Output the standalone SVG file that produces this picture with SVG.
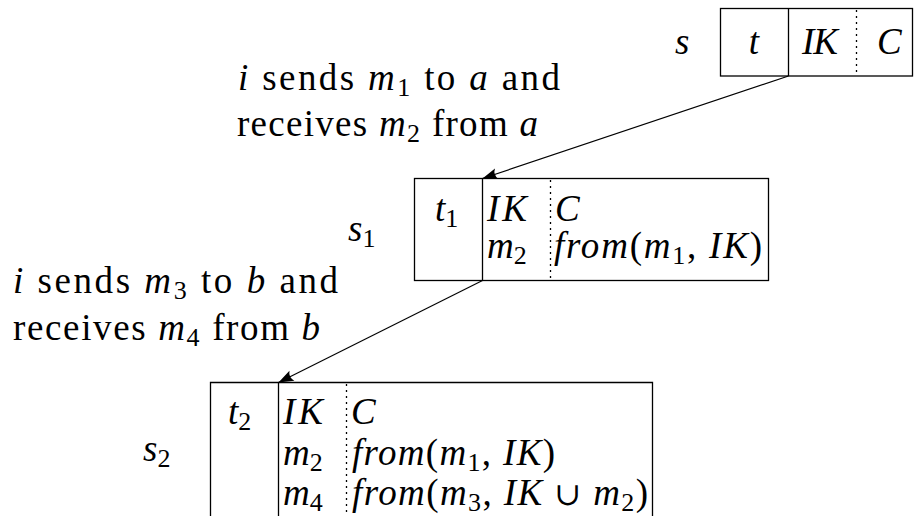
<svg xmlns="http://www.w3.org/2000/svg" width="915" height="516" viewBox="0 0 915 516">
<defs>
<marker id="ah" markerUnits="userSpaceOnUse" markerWidth="20" markerHeight="14" viewBox="-16 -7 17 14" refX="0" refY="0" orient="auto">
<path d="M0,0 L-15,-5.5 Q-11,0 -15,5.5 Z" fill="#000"/>
</marker>
</defs>
<g id="label1">
<text font-family="Liberation Serif" font-size="37" x="238" y="90" textLength="322" lengthAdjust="spacing"><tspan font-style="italic">i</tspan> sends <tspan font-style="italic">m</tspan><tspan font-size="26" dy="6">1</tspan><tspan dy="-6"> to </tspan><tspan font-style="italic">a</tspan> and</text>
<text font-family="Liberation Serif" font-size="37" x="237" y="136" textLength="301" lengthAdjust="spacing">receives <tspan font-style="italic">m</tspan><tspan font-size="26" dy="6">2</tspan><tspan dy="-6"> from </tspan><tspan font-style="italic">a</tspan></text>
</g>
<g id="label2">
<text font-family="Liberation Serif" font-size="37" x="13" y="293" textLength="325" lengthAdjust="spacing"><tspan font-style="italic">i</tspan> sends <tspan font-style="italic">m</tspan><tspan font-size="26" dy="6">3</tspan><tspan dy="-6"> to </tspan><tspan font-style="italic">b</tspan> and</text>
<text font-family="Liberation Serif" font-size="37" x="13" y="340" textLength="307" lengthAdjust="spacing">receives <tspan font-style="italic">m</tspan><tspan font-size="26" dy="6">4</tspan><tspan dy="-6"> from </tspan><tspan font-style="italic">b</tspan></text>
</g>
<g id="s" stroke="#000" stroke-width="1.3">
<rect fill="#fff" x="720.5" y="8.5" width="192" height="67.5"/>
<line x1="788.5" y1="8.5" x2="788.5" y2="76"/>
<line stroke-dasharray="2 4" x1="856.5" y1="10" x2="856.5" y2="76"/>
<g stroke="none" font-family="Liberation Serif" font-size="37" font-style="italic">
<text x="675" y="54">s</text>
<text x="754" y="54" text-anchor="middle">t</text>
<text x="802" y="54" textLength="36" lengthAdjust="spacing">IK</text>
<text x="877" y="54">C</text>
</g>
</g>
<g id="s1" stroke="#000" stroke-width="1.3">
<rect fill="#fff" x="414.5" y="178.5" width="354" height="102"/>
<line x1="482.5" y1="178.5" x2="482.5" y2="280.5"/>
<line stroke-dasharray="2 4" x1="550.5" y1="180" x2="550.5" y2="280"/>
<g stroke="none" font-family="Liberation Serif" font-size="37">
<text x="348" y="241"><tspan font-style="italic">s</tspan><tspan font-size="26" dy="6">1</tspan></text>
<text x="435" y="221"><tspan font-style="italic">t</tspan><tspan font-size="26" dy="6">1</tspan></text>
<text x="487" y="221" font-style="italic" textLength="40" lengthAdjust="spacing">IK</text>
<text x="555" y="221" font-style="italic">C</text>
<text x="487" y="258"><tspan font-style="italic">m</tspan><tspan font-size="26" dy="6">2</tspan></text>
<text x="554" y="258" textLength="208" lengthAdjust="spacing"><tspan font-style="italic">from</tspan>(<tspan font-style="italic">m</tspan><tspan font-size="26" dy="6">1</tspan><tspan dy="-6">, </tspan><tspan font-style="italic">IK</tspan>)</text>
</g>
</g>
<g id="s2" stroke="#000" stroke-width="1.3">
<path fill="#fff" d="M210.5,517 V382.5 H652.5 V517"/>
<line x1="278.5" y1="382.5" x2="278.5" y2="516"/>
<line stroke-dasharray="2 4" x1="346.5" y1="384" x2="346.5" y2="516"/>
<g stroke="none" font-family="Liberation Serif" font-size="37">
<text x="143" y="461"><tspan font-style="italic">s</tspan><tspan font-size="26" dy="6">2</tspan></text>
<text x="228" y="424"><tspan font-style="italic">t</tspan><tspan font-size="26" dy="6">2</tspan></text>
<text x="283" y="424" font-style="italic" textLength="40" lengthAdjust="spacing">IK</text>
<text x="351" y="424" font-style="italic">C</text>
<text x="283" y="465"><tspan font-style="italic">m</tspan><tspan font-size="26" dy="6">2</tspan></text>
<text x="352" y="465" textLength="203" lengthAdjust="spacing"><tspan font-style="italic">from</tspan>(<tspan font-style="italic">m</tspan><tspan font-size="26" dy="6">1</tspan><tspan dy="-6">, </tspan><tspan font-style="italic">IK</tspan>)</text>
<text x="283" y="505"><tspan font-style="italic">m</tspan><tspan font-size="26" dy="6">4</tspan></text>
<text x="352" y="505" textLength="296" lengthAdjust="spacing"><tspan font-style="italic">from</tspan>(<tspan font-style="italic">m</tspan><tspan font-size="26" dy="6">3</tspan><tspan dy="-6">, </tspan><tspan font-style="italic">IK</tspan> <tspan font-family="DejaVu Serif" font-size="32">∪</tspan> <tspan font-style="italic">m</tspan><tspan font-size="26" dy="6">2</tspan><tspan dy="-6">)</tspan></text>
</g>
</g>
<g id="connectors" stroke="#000" stroke-width="1.2" fill="none">
<line x1="788.5" y1="76" x2="482.5" y2="178.5" marker-end="url(#ah)"/>
<line x1="482.5" y1="280.5" x2="278.5" y2="382.5" marker-end="url(#ah)"/>
</g>
</svg>
